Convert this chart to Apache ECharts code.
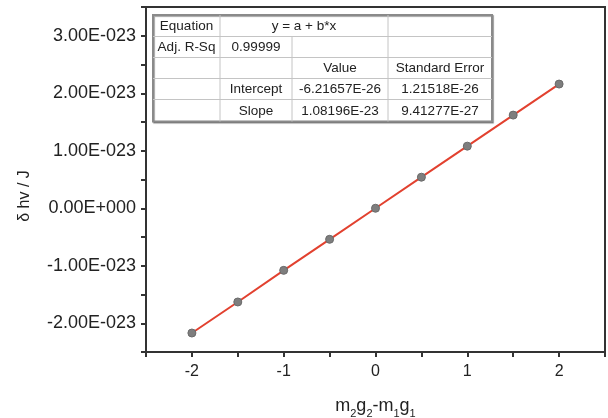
<!DOCTYPE html>
<html>
<head>
<meta charset="utf-8">
<script src="https://cdn.jsdelivr.net/npm/echarts@6/dist/echarts.min.js"></script>
<style>html,body{margin:0;padding:0;background:#fff;}#c{width:608px;height:418px;}</style>
</head>
<body>
<div id="c"></div>
<script>
// x values: m2g2 - m1g1
var xValues = [-2, -1.5, -1, -0.5, 0, 0.5, 1, 1.5, 2];
// delta h nu in units of 1E-23 J
var yValues = [-2.17, -1.63, -1.08, -0.54, 0.0, 0.54, 1.08, 1.62, 2.16];
var xTickLabels = ["-2", "-1", "0", "1", "2"];
var yTickLabels = ["-2.00E-023", "-1.00E-023", "0.00E+000", "1.00E-023", "2.00E-023", "3.00E-023"];
// fit table rows
var tableRow1 = ["Equation", "y = a + b*x", ""];
var tableRow2 = ["Adj. R-Sq", "0.99999", "", ""];
var tableRow3 = ["", "", "Value", "Standard Error"];
var tableRow4 = ["", "Intercept", "-6.21657E-26", "1.21518E-26"];
var tableRow5 = ["", "Slope", "1.08196E-23", "9.41277E-27"];
var yAxisTitle = "δ hv / J";

var chart = echarts.init(document.getElementById('c'), null, {renderer: 'canvas'});
var FONT = '"Liberation Sans", Arial, sans-serif';

function yFmt(v) {
  var r = Math.round(v * 1000) / 1000;
  if (Math.abs(r - Math.round(r)) > 1e-6) return '';
  var idx = Math.round(r) + 2;
  return yTickLabels[idx] || '';
}
function xFmt(v) {
  var r = Math.round(v * 1000) / 1000;
  if (Math.abs(r - Math.round(r)) > 1e-6) return '';
  var idx = Math.round(r) + 2;
  return xTickLabels[idx] || '';
}

// table graphic
var colX = [153, 220, 292, 388, 492];
var rowY = [15, 36.5, 57.5, 78.5, 99.5, 121.5];
var tg = [];
tg.push({type: 'rect', shape: {x: colX[0], y: rowY[0], width: colX[4] - colX[0], height: rowY[5] - rowY[0]},
  style: {fill: '#fff', stroke: '#8a8a8a', lineWidth: 2, shadowColor: 'rgba(0,0,0,0.35)', shadowOffsetX: 1, shadowOffsetY: 1, shadowBlur: 1}, z: 100});
for (var r = 1; r < 5; r++) {
  tg.push({type: 'line', shape: {x1: colX[0], y1: rowY[r], x2: colX[4], y2: rowY[r]}, style: {stroke: '#c4c4c4', lineWidth: 1}, z: 101});
}
[1, 3].forEach(function (c) {
  tg.push({type: 'line', shape: {x1: colX[c], y1: rowY[0], x2: colX[c], y2: rowY[5]}, style: {stroke: '#c4c4c4', lineWidth: 1}, z: 101});
});
tg.push({type: 'line', shape: {x1: colX[2], y1: rowY[1], x2: colX[2], y2: rowY[5]}, style: {stroke: '#c4c4c4', lineWidth: 1}, z: 101});

function cellText(txt, cx, cy) {
  if (!txt) return;
  tg.push({type: 'text', x: cx, y: cy, z: 102,
    style: {text: txt, font: '13.5px ' + FONT, fill: '#222', align: 'center', verticalAlign: 'middle'}});
}
function rowMid(i) { return (rowY[i] + rowY[i + 1]) / 2 + 0.5; }
function colMid(i) { return (colX[i] + colX[i + 1]) / 2; }
cellText(tableRow1[0], colMid(0), rowMid(0));
cellText(tableRow1[1], (colX[1] + colX[3]) / 2, rowMid(0));
cellText(tableRow1[2], colMid(3), rowMid(0));
[tableRow2, tableRow3, tableRow4, tableRow5].forEach(function (row, i) {
  row.forEach(function (t, c) { cellText(t, colMid(c), rowMid(i + 1)); });
});
// y axis title
tg.push({type: 'text', x: 25, y: 196, rotation: Math.PI / 2, z: 50,
  style: {text: yAxisTitle, font: '16px ' + FONT, fill: '#222', align: 'center', verticalAlign: 'middle'}});

var option = {
  backgroundColor: '#fff',
  animation: false,
  grid: {left: 146, right: 3, top: 7, bottom: 66, outerBoundsMode: 'none', containLabel: false,
    show: true, borderColor: '#333', borderWidth: 2, backgroundColor: 'transparent'},
  xAxis: {
    type: 'value', min: -2.5, max: 2.5, interval: 0.5,
    name: '{m|m}{s|2}{m|g}{s|2}{m|-m}{s|1}{m|g}{s|1}',
    nameLocation: 'middle', nameGap: 41,
    nameTextStyle: {
      rich: {
        m: {fontSize: 18, fontFamily: FONT, color: '#222', verticalAlign: 'bottom', lineHeight: 22},
        s: {fontSize: 11, fontFamily: FONT, color: '#222', verticalAlign: 'bottom', lineHeight: 16, padding: [0, 0, -4, 0]}
      }
    },
    axisLine: {onZero: false, lineStyle: {color: '#333', width: 2}},
    axisTick: {show: true, inside: false, length: 5, lineStyle: {color: '#333', width: 2}},
    axisLabel: {formatter: xFmt, fontSize: 16, fontFamily: FONT, color: '#222', margin: 12, showMinLabel: true, showMaxLabel: true},
    splitLine: {show: false}
  },
  yAxis: {
    type: 'value', min: -2.5, max: 3.5, interval: 0.5,
    axisLine: {onZero: false, lineStyle: {color: '#333', width: 2}},
    axisTick: {show: true, inside: false, length: 5, lineStyle: {color: '#333', width: 2}},
    axisLabel: {formatter: yFmt, fontSize: 18, fontFamily: FONT, color: '#222', margin: 10},
    splitLine: {show: false}
  },
  series: [{
    type: 'line',
    data: xValues.map(function (x, i) { return [x, yValues[i]]; }),
    symbol: 'circle', symbolSize: 8,
    lineStyle: {color: '#e2412f', width: 2},
    itemStyle: {color: '#7e7e7e', borderColor: '#6a6a6a', borderWidth: 1},
    z: 5
  }],
  graphic: tg
};
chart.setOption(option);
</script>
</body>
</html>
